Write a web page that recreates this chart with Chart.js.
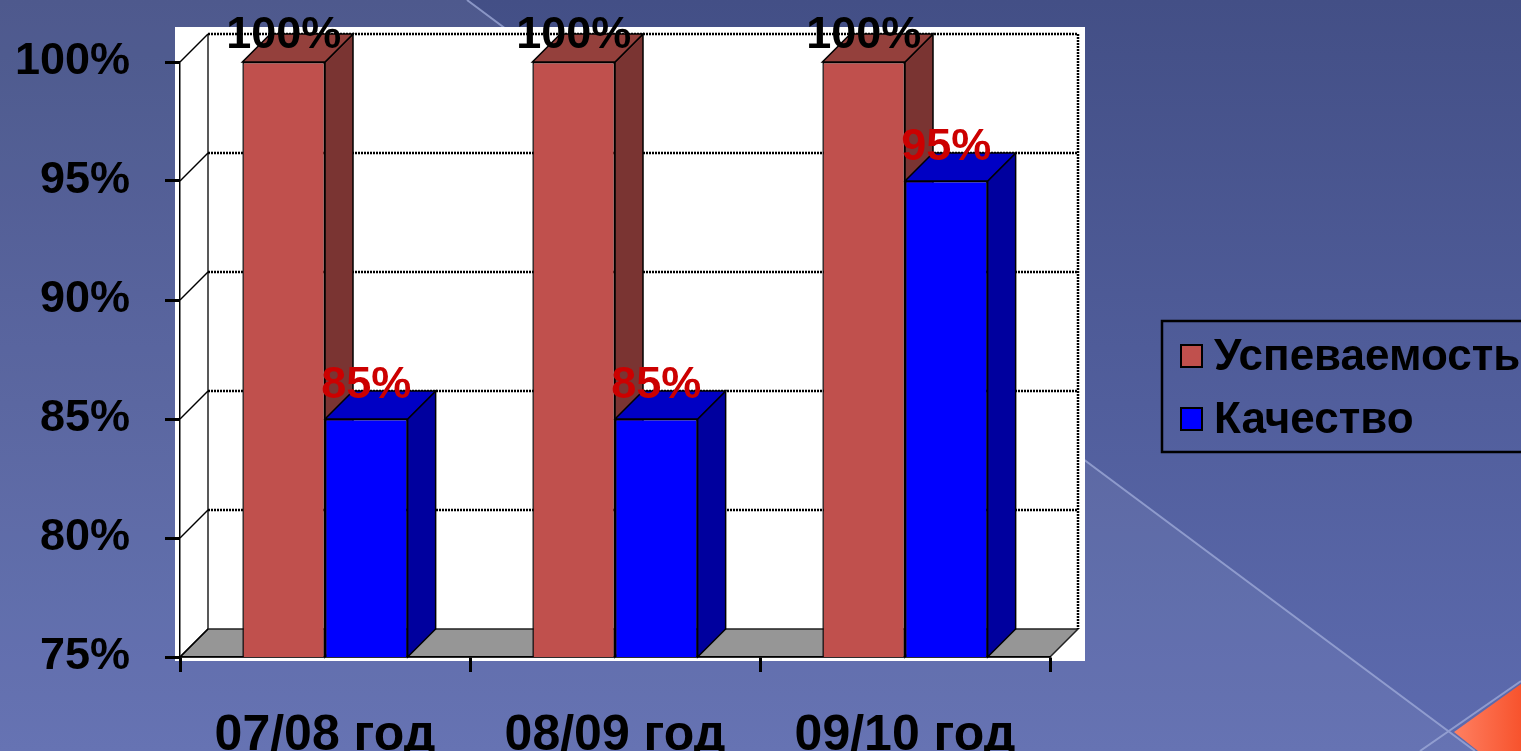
<!DOCTYPE html>
<html>
<head>
<meta charset="utf-8">
<script src="https://cdn.jsdelivr.net/npm/chart.js@4/dist/chart.umd.min.js"></script>
<style>
  html, body { margin: 0; padding: 0; overflow: hidden; background: #4a5792; }
  canvas { display: block; }
</style>
</head>
<body>
<canvas id="chart" width="1521" height="751"></canvas>
<script>
// chart data
const categories = ['07/08 год', '08/09 год', '09/10 год'];
const seriesNames = ['Успеваемость', 'Качество'];
const uspevaemost = [100, 100, 100];
const kachestvo = [85, 85, 95];
const yMin = 75;
const yMax = 100;
const yStep = 5;

const FONT = '"Liberation Sans", Arial, sans-serif';
const DEPTH = 28;

// 3D face colours per dataset: [front, top, side]
const faceColors = [
    ['#c0504d', '#94403c', '#7a3432'],
    ['#0000ff', '#0000c4', '#00009e']
];
const labelColors = ['#000000', '#cc0000'];

// background, white plot box and the 3D walls/floor
const backdrop = {
    id: 'backdrop',
    beforeDraw(chart) {
        const ctx = chart.ctx;
        const W = chart.width, H = chart.height;
        ctx.save();
        const g = ctx.createLinearGradient(0, 0, 0, H);
        g.addColorStop(0, '#434f86');
        g.addColorStop(1, '#5d6baf');
        ctx.fillStyle = g;
        ctx.fillRect(0, 0, W, H);

        // lighter area under the diagonal
        ctx.beginPath();
        ctx.moveTo(467, 0);
        ctx.lineTo(1475, H);
        ctx.lineTo(0, H);
        ctx.lineTo(0, 0);
        ctx.closePath();
        ctx.fillStyle = 'rgba(255,255,255,0.06)';
        ctx.fill();

        ctx.strokeStyle = 'rgba(160,172,218,0.75)';
        ctx.lineWidth = 2;
        ctx.beginPath();
        ctx.moveTo(467, 0);
        ctx.lineTo(1475, H);
        ctx.moveTo(1521, 681);
        ctx.lineTo(1420, H);
        ctx.stroke();

        // orange corner
        const og = ctx.createLinearGradient(1453, 0, 1521, 0);
        og.addColorStop(0, '#ff8062');
        og.addColorStop(1, '#f7532d');
        ctx.fillStyle = og;
        ctx.beginPath();
        ctx.moveTo(1454, 732);
        ctx.lineTo(1521, 684);
        ctx.lineTo(1521, H);
        ctx.lineTo(1478, H);
        ctx.closePath();
        ctx.fill();

        const a = chart.chartArea;
        const ys = chart.scales.y;
        const d = DEPTH;

        ctx.fillStyle = '#ffffff';
        ctx.fillRect(a.left - 5, a.top - 35, a.right - a.left + 40, a.bottom - a.top + 39);

        // floor
        ctx.beginPath();
        ctx.moveTo(a.left, a.bottom);
        ctx.lineTo(a.right, a.bottom);
        ctx.lineTo(a.right + d, a.bottom - d);
        ctx.lineTo(a.left + d, a.bottom - d);
        ctx.closePath();
        ctx.fillStyle = '#969696';
        ctx.fill();
        ctx.strokeStyle = '#222';
        ctx.lineWidth = 1.5;
        ctx.stroke();

        // left wall edges
        ctx.beginPath();
        ctx.moveTo(a.left + d, a.top - d);
        ctx.lineTo(a.left + d, a.bottom - d);
        ctx.stroke();

        // gridlines: diagonal on the side wall, dotted on the back wall
        ys.ticks.forEach(t => {
            const y = ys.getPixelForValue(t.value);
            ctx.setLineDash([]);
            ctx.strokeStyle = '#000';
            ctx.lineWidth = 1.5;
            ctx.beginPath();
            ctx.moveTo(a.left, y);
            ctx.lineTo(a.left + d, y - d);
            ctx.stroke();
            if (t.value > yMin) {
                ctx.setLineDash([2, 1]);
                ctx.lineWidth = 2.5;
                ctx.beginPath();
                ctx.moveTo(a.left + d, y - d);
                ctx.lineTo(a.right + d, y - d);
                ctx.stroke();
            }
        });
        ctx.setLineDash([2, 1]);
        ctx.lineWidth = 2.5;
        ctx.beginPath();
        ctx.moveTo(a.right + d, a.top - d);
        ctx.lineTo(a.right + d, a.bottom - d);
        ctx.stroke();
        ctx.restore();
    }
};

// top and side faces of the bars
const bars3d = {
    id: 'bars3d',
    beforeDatasetsDraw(chart) {
        const ctx = chart.ctx;
        const d = DEPTH;
        const floor = chart.chartArea.bottom;
        ctx.save();
        ctx.lineWidth = 1.5;
        ctx.strokeStyle = '#000';
        for (let i = 0; i < categories.length; i++) {
            chart.data.datasets.forEach((ds, di) => {
                const bar = chart.getDatasetMeta(di).data[i];
                const l = bar.x - bar.width / 2, r = bar.x + bar.width / 2;
                const top = bar.y, bot = Math.min(bar.base, floor);
                // side
                ctx.beginPath();
                ctx.moveTo(r, top);
                ctx.lineTo(r + d, top - d);
                ctx.lineTo(r + d, bot - d);
                ctx.lineTo(r, bot);
                ctx.closePath();
                ctx.fillStyle = faceColors[di][2];
                ctx.fill();
                ctx.stroke();
                // top
                ctx.beginPath();
                ctx.moveTo(l, top);
                ctx.lineTo(l + d, top - d);
                ctx.lineTo(r + d, top - d);
                ctx.lineTo(r, top);
                ctx.closePath();
                ctx.fillStyle = faceColors[di][1];
                ctx.fill();
                ctx.stroke();
            });
        }
        ctx.restore();
    },
    afterDatasetsDraw(chart) {
        const ctx = chart.ctx;
        ctx.save();
        ctx.font = 'bold 45px ' + FONT;
        ctx.textAlign = 'center';
        ctx.textBaseline = 'alphabetic';
        chart.data.datasets.forEach((ds, di) => {
            chart.getDatasetMeta(di).data.forEach((bar, i) => {
                ctx.fillStyle = labelColors[di];
                ctx.fillText(ds.data[i] + '%', bar.x, Math.max(bar.y - 21, 48));
            });
        });
        ctx.restore();
    }
};

// legend box on the right
const sideLegend = {
    id: 'sideLegend',
    afterDraw(chart) {
        const ctx = chart.ctx;
        ctx.save();
        ctx.strokeStyle = '#000';
        ctx.lineWidth = 2.5;
        ctx.strokeRect(1162, 321, 400, 131);
        ctx.font = 'bold 44px ' + FONT;
        ctx.textBaseline = 'alphabetic';
        chart.data.datasets.forEach((ds, di) => {
            const y = 345 + di * 63;
            ctx.fillStyle = ds.backgroundColor;
            ctx.fillRect(1181, y, 21, 22);
            ctx.lineWidth = 2;
            ctx.strokeRect(1181, y, 21, 22);
            ctx.fillStyle = '#000';
            ctx.fillText(ds.label, 1214, y + 25);
        });
        ctx.restore();
    }
};

new Chart(document.getElementById('chart'), {
    type: 'bar',
    data: {
        labels: categories,
        datasets: [
            { label: seriesNames[0], data: uspevaemost, backgroundColor: faceColors[0][0] },
            { label: seriesNames[1], data: kachestvo, backgroundColor: faceColors[1][0] }
        ]
    },
    options: {
        responsive: false,
        animation: false,
        layout: { padding: { left: 0, top: 62, right: 471, bottom: 0 } },
        datasets: {
            bar: {
                borderColor: '#000',
                borderWidth: 1.5,
                borderSkipped: false,
                categoryPercentage: 0.57,
                barPercentage: 1
            }
        },
        plugins: {
            legend: { display: false },
            tooltip: { enabled: false }
        },
        scales: {
            x: {
                afterFit: (scale) => { scale.height = 94; },
                grid: { drawOnChartArea: false, tickLength: 15, tickWidth: 3, tickColor: '#000' },
                border: { color: '#000', width: 1.5 },
                ticks: { color: '#000', font: { family: FONT, size: 50, weight: 'bold' }, padding: 34 }
            },
            y: {
                min: yMin,
                max: yMax,
                afterFit: (scale) => { scale.width = 180; },
                grid: { drawOnChartArea: false, tickLength: 15, tickWidth: 3, tickColor: '#000' },
                border: { color: '#000', width: 1.5 },
                ticks: {
                    stepSize: yStep,
                    color: '#000',
                    padding: 35,
                    font: { family: FONT, size: 45, weight: 'bold' },
                    callback: (v) => v + '%'
                }
            }
        }
    },
    plugins: [backdrop, bars3d, sideLegend]
});
</script>
</body>
</html>
